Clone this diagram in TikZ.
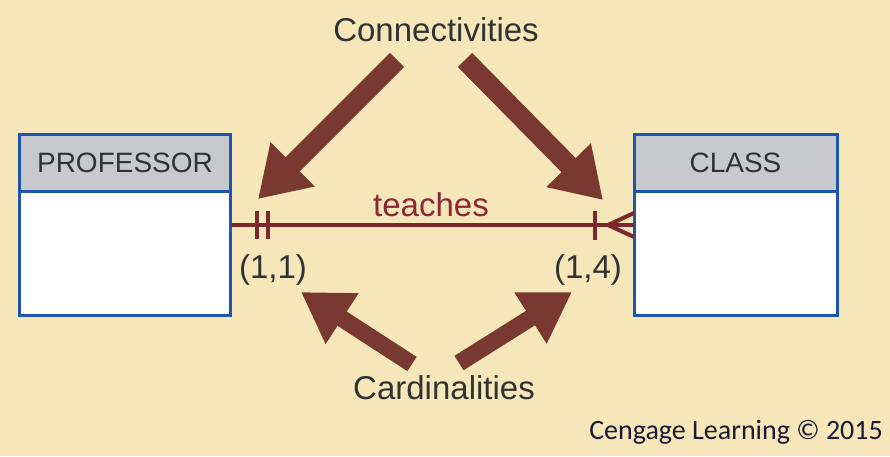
\documentclass[tikz,border=0pt]{standalone}
\usepackage{fontspec}
\setmainfont{Liberation Sans}
\newfontfamily\credfont{Carlito}
\usetikzlibrary{arrows.meta}
\definecolor{bg}{RGB}{245,231,185}
\definecolor{arrowc}{RGB}{122,57,48}
\definecolor{linec}{RGB}{125,40,45}
\definecolor{tealc}{RGB}{140,40,50}
\definecolor{boxc}{RGB}{30,85,175}
\definecolor{hdrc}{RGB}{200,201,204}
\definecolor{txtc}{RGB}{50,50,50}
\definecolor{credc}{RGB}{30,25,50}
\begin{document}
\begin{tikzpicture}[x=1pt,y=-1pt,
  hdr/.style={draw=boxc,line width=3pt,fill=hdrc,minimum width=211pt,minimum height=57pt,inner sep=0pt,text=txtc,font=\fontsize{28}{32}\selectfont},
  bodybox/.style={draw=boxc,line width=3pt,fill=white,minimum width=211pt,minimum height=124pt,inner sep=0pt},
  lbl/.style={text=txtc,font=\fontsize{33}{38}\selectfont,inner sep=0pt},
  relline/.style={draw=linec,line width=4pt},
  barmark/.style={draw=linec,line width=4.5pt},
  bigarrow/.style={draw=arrowc,line width=20pt,-{Triangle[width=59pt,length=49pt]}},
  smallarrow/.style={draw=arrowc,line width=17pt,-{Triangle[width=57pt,length=49pt]}}]
\useasboundingbox (0,0) rectangle (890,456);
\fill[bg] (0,0) rectangle (890,456);
% entities
\node[bodybox] (profb) at (125,253) {};
\node[hdr] (profh) at (125,162.5) {PROFESSOR};
\node[bodybox,minimum width=203pt] (classb) at (735.5,253) {};
\node[hdr,minimum width=203pt] (classh) at (735.5,162.5) {CLASS};
% relationship
\coordinate (pl) at (231,225);
\coordinate (cr) at (634,225);
\draw[relline] (pl) -- (cr);
\node[text=tealc,font=\fontsize{33}{38}\selectfont,inner sep=0pt] (teach) at (431,205) {teaches};
% cardinality marks
\coordinate (b1t) at (257,211); \coordinate (b1b) at (257,239);
\coordinate (b2t) at (268,211); \coordinate (b2b) at (268,239);
\coordinate (b3t) at (595,211); \coordinate (b3b) at (595,240);
\draw[barmark] (b1t) -- (b1b);
\draw[barmark] (b2t) -- (b2b);
\draw[barmark] (b3t) -- (b3b);
\coordinate (cf) at (608,225);
\coordinate (cfu) at (634,213);
\coordinate (cfd) at (634,237);
\draw[barmark,line width=4pt] (cfu) -- (cf) -- (cfd);
% texts
\node[lbl] (c11) at (273,270) {(1,1)};
\node[lbl] (c14) at (588,270) {(1,4)};
\node[lbl] (conn) at (436,30) {Connectivities};
\node[lbl] (card) at (444,388) {Cardinalities};
\node[text=credc,font=\credfont\fontsize{28}{32}\selectfont,inner sep=0pt,anchor=east] (cred) at (883,432) {Cengage Learning © 2015};
% arrows
\coordinate (a1s) at (397,60); \coordinate (a1e) at (258,199);
\coordinate (a2s) at (465,60); \coordinate (a2e) at (603,200);
\coordinate (a3s) at (412,364); \coordinate (a3e) at (301,292);
\coordinate (a4s) at (459,363); \coordinate (a4e) at (572,292);
\draw[bigarrow] (a1s) -- (a1e);
\draw[bigarrow] (a2s) -- (a2e);
\draw[smallarrow] (a3s) -- (a3e);
\draw[smallarrow] (a4s) -- (a4e);
\end{tikzpicture}
\end{document}
